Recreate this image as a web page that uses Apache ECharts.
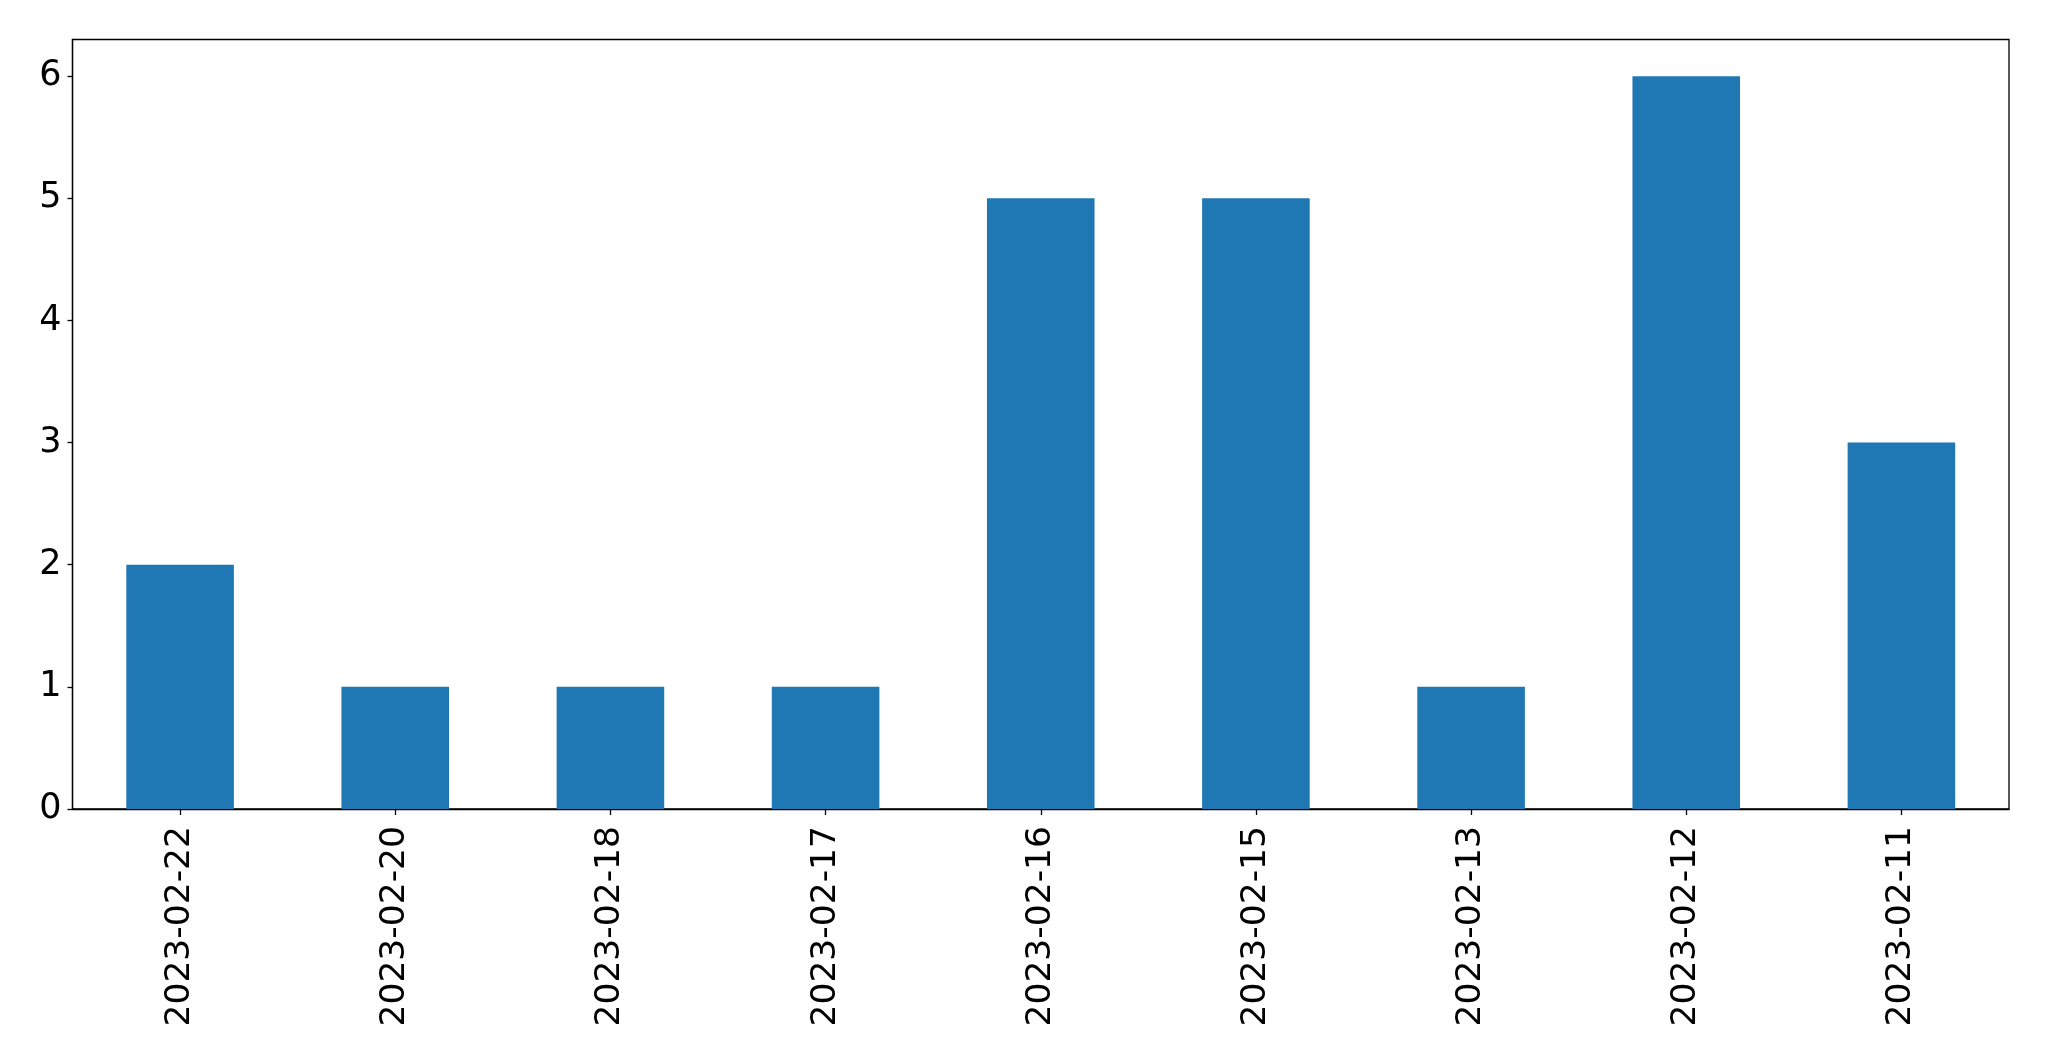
<!DOCTYPE html>
<html>
<head>
<meta charset="utf-8">
<script src="https://cdn.jsdelivr.net/npm/echarts@6/dist/echarts.min.js"></script>
<style>html,body{margin:0;padding:0;background:#fff;}#c{width:2049px;height:1061px;}</style>
</head>
<body>
<div id="c"></div>
<script>
const categories = ["2023-02-22","2023-02-20","2023-02-18","2023-02-17","2023-02-16","2023-02-15","2023-02-13","2023-02-12","2023-02-11"];
const values = [2,1,1,1,5,5,1,6,3];
const yTicks = [0,1,2,3,4,5,6];

const chart = echarts.init(document.getElementById('c'), null, {renderer:'canvas'});
const font = 'DejaVu Sans';
chart.setOption({
  animation: false,
  backgroundColor: '#ffffff',
  grid: {left: 72.5, right: 40, top: 39.5, bottom: 252, show: true, borderColor: '#000', borderWidth: 1.3, backgroundColor: 'transparent'},
  xAxis: {
    type: 'category',
    data: categories,
    axisLine: {show: true, lineStyle: {color: '#000', width: 1.3}},
    axisTick: {show: true, alignWithLabel: true, length: 6, lineStyle: {color: '#000', width: 1.3}},
    axisLabel: {rotate: 90, margin: 17, color: '#000', fontFamily: font, fontSize: 34.5, interval: 0},
    splitLine: {show: false}
  },
  yAxis: {
    type: 'value',
    min: 0, max: 6.3,
    axisLine: {show: true, lineStyle: {color: '#000', width: 1.3}},
    axisTick: {show: true, length: 5, lineStyle: {color: '#000', width: 1.3}, customValues: yTicks},
    axisLabel: {margin: 11, color: '#000', fontFamily: font, fontSize: 35, customValues: yTicks},
    splitLine: {show: false}
  },
  series: [{
    type: 'bar',
    data: values,
    barWidth: '50%',
    itemStyle: {color: '#1f77b4'}
  }]
});
</script>
</body>
</html>
